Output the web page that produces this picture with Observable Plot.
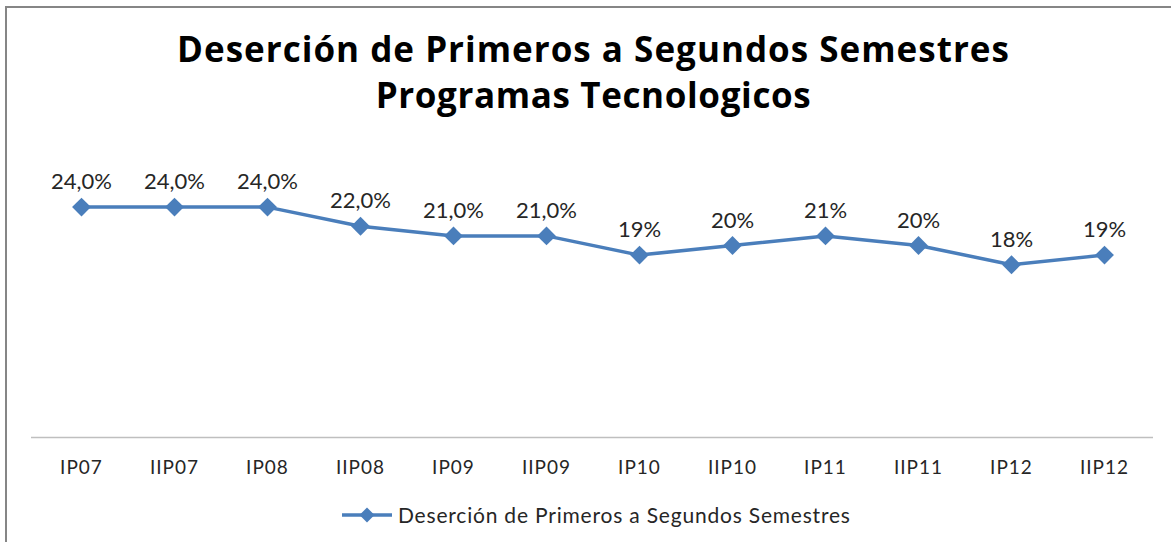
<!DOCTYPE html>
<html>
<head>
<meta charset="utf-8">
<script src="https://cdn.jsdelivr.net/npm/d3@7"></script>
<script src="https://cdn.jsdelivr.net/npm/@observablehq/plot@0.6"></script>
<style>
  html, body { margin: 0; padding: 0; background: #fff; }
  #page { position: relative; width: 1171px; height: 542px; overflow: hidden; font-family: Lato, "Open Sans", sans-serif; }
  #frame { position: absolute; left: 5px; top: 6px; right: 0; bottom: 0; border-top: 2px solid #868686; border-left: 2px solid #868686; pointer-events: none; }
  #title { height: 130px; box-sizing: border-box; padding-top: 26px; padding-left: 16px; text-align: center; font-family: "Open Sans", Lato, sans-serif; font-weight: 700; font-size: 35px; line-height: 46px; color: #000; white-space: nowrap; }
  #chart svg { display: block; }
  #chart g[aria-label="x-axis tick label"] text { letter-spacing: 1px; }
  #legend { height: 55px; display: flex; align-items: center; justify-content: flex-start; padding-left: 341px; font-size: 21px; color: #262626; white-space: nowrap; }
  #legend svg { margin-right: 5px; }
</style>
</head>
<body>
<div id="page">
  <div id="title"></div>
  <div id="chart"></div>
  <div id="legend"></div>
  <div id="frame"></div>
</div>
<script>
const titleLines = ["Deserción de Primeros a Segundos Semestres", "Programas Tecnologicos"];
const seriesName = "Deserción de Primeros a Segundos Semestres";
const categories = ["IP07", "IIP07", "IP08", "IIP08", "IP09", "IIP09", "IP10", "IIP10", "IP11", "IIP11", "IP12", "IIP12"];
const values = [24, 24, 24, 22, 21, 21, 19, 20, 21, 20, 18, 19];
const valueLabels = ["24,0%", "24,0%", "24,0%", "22,0%", "21,0%", "21,0%", "19%", "20%", "21%", "20%", "18%", "19%"];

const lineColor = "#4A7EBB";
const data = categories.map((c, i) => ({periodo: c, valor: values[i], etiqueta: valueLabels[i]}));

// letter-spacing so that a text line reaches the width seen in the reference
const ctx = document.createElement("canvas").getContext("2d");
function spacingFor(text, font, target) {
  ctx.font = font;
  const w = ctx.measureText(text).width;
  return ((target - w) / Math.max(1, text.length - 1)).toFixed(2) + "px";
}
const titleFont = "700 35px 'Open Sans'";
const titleWidths = [832, 435];
document.getElementById("title").innerHTML = titleLines
  .map((t, i) => `<div style="letter-spacing:${spacingFor(t, titleFont, titleWidths[i])}">${t}</div>`)
  .join("");

const chart = Plot.plot({
  width: 1171,
  height: 357,
  marginLeft: 31,
  marginRight: 18,
  marginTop: 19,
  marginBottom: 50,
  style: {fontFamily: "Lato, 'Open Sans', sans-serif", color: "#262626", background: "transparent"},
  x: {type: "point", domain: categories, padding: 0.5, label: null},
  y: {domain: [0, 30], axis: null},
  marks: [
    Plot.ruleY([0], {stroke: "#BFBFBF", strokeWidth: 1.5}),
    Plot.axisX({tickSize: 0, tickPadding: 23, fontSize: 19, label: null}),
    Plot.line(data, {x: "periodo", y: "valor", stroke: lineColor, strokeWidth: 3.5}),
    Plot.dot(data, {x: "periodo", y: "valor", symbol: "diamond2", r: 8.5, fill: lineColor, stroke: "none"}),
    Plot.text(data, {x: "periodo", y: "valor", text: "etiqueta", dy: -25, fontSize: 22, fill: "#262626"})
  ]
});
document.getElementById("chart").appendChild(chart);

document.getElementById("legend").innerHTML =
  `<svg width="52" height="20"><line x1="1" y1="10" x2="51" y2="10" stroke="${lineColor}" stroke-width="3.5"/>` +
  `<path d="M26,2.5L33.5,10L26,17.5L18.5,10Z" fill="${lineColor}"/></svg>` +
  `<span style="letter-spacing:${spacingFor(seriesName, "21px Lato", 452)}">${seriesName}</span>`;
</script>
</body>
</html>
